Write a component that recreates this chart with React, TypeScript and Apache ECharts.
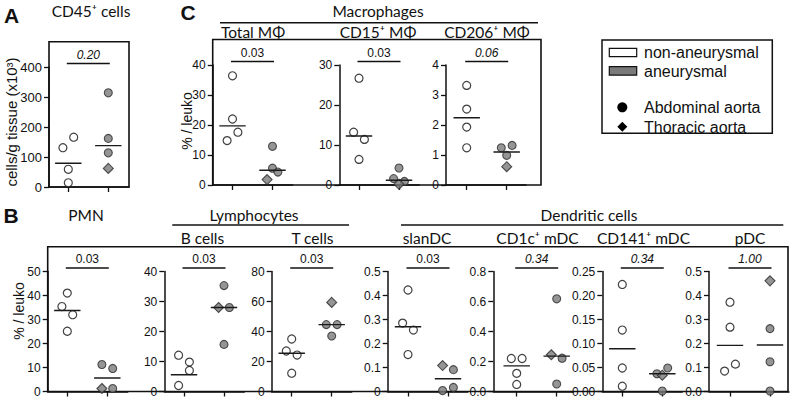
import React, { useEffect, useRef } from "react";
import * as echarts from "echarts";

// ---------------- data ----------------
// jitter side: -1 left, 0 centre, +1 right ; shape: c = circle (abdominal), d = diamond (thoracic)

// A: CD45+ cells (cells/g tissue x10^3)
const CD45_NON = [166, 131, 59, 14];
const CD45_NON_JIT = [1, -1, 0, 0];
const CD45_ANE = [314, 162, 114, 62];
const CD45_ANE_JIT = [0, 0, 0, 0];
const CD45_ANE_SHAPE = ["c", "c", "c", "d"];
const CD45_MEDIAN = [79, 138];

// C: Macrophages (% / leuko)
const TOTALMF_NON = [36.4, 22, 17.6, 14.8];
const TOTALMF_NON_JIT = [0, 0, 1, -1];
const TOTALMF_ANE = [12.9, 5.6, 4.3, 1.8];
const TOTALMF_ANE_JIT = [0, 0, 1, -1];
const TOTALMF_ANE_SHAPE = ["c", "c", "c", "d"];
const TOTALMF_MEDIAN = [19.7, 4.9];

const CD15MF_NON = [26.7, 13.2, 11.4, 6.4];
const CD15MF_NON_JIT = [0, -1, 1, 0];
const CD15MF_ANE = [4.25, 1.6, 0.9, 0.2];
const CD15MF_ANE_JIT = [0, -1, 1, 0];
const CD15MF_ANE_SHAPE = ["c", "c", "c", "d"];
const CD15MF_MEDIAN = [12.25, 1.2];

const CD206MF_NON = [3.32, 2.53, 1.93, 1.24];
const CD206MF_NON_JIT = [0, 0, 0, 0];
const CD206MF_ANE = [1.24, 1.32, 0.99, 0.61];
const CD206MF_ANE_JIT = [-1, 1, 0, 0];
const CD206MF_ANE_SHAPE = ["c", "c", "c", "d"];
const CD206MF_MEDIAN = [2.24, 1.1];

// B: leukocyte subsets (% / leuko)
const PMN_NON = [41, 35.4, 32, 25.1];
const PMN_NON_JIT = [0, -1, 1, 0];
const PMN_ANE = [11.25, 9.6, 1.25, 1.25];
const PMN_ANE_JIT = [-1, 1, -1, 1];
const PMN_ANE_SHAPE = ["c", "c", "d", "c"];
const PMN_MEDIAN = [33.75, 5.6];

const BCELL_NON = [12.1, 9.8, 7.0, 2.0];
const BCELL_NON_JIT = [-1, 1, 1, -1];
const BCELL_ANE = [35.3, 28, 28, 15.7];
const BCELL_ANE_JIT = [0, -1, 1, 0];
const BCELL_ANE_SHAPE = ["c", "d", "c", "c"];
const BCELL_MEDIAN = [5.6, 28];

const TCELL_NON = [35, 27, 24.3, 12.2];
const TCELL_NON_JIT = [0, -1, 1, 0];
const TCELL_ANE = [59.4, 44.6, 44.6, 37];
const TCELL_ANE_JIT = [0, -1, 1, 0];
const TCELL_ANE_SHAPE = ["d", "c", "c", "c"];
const TCELL_MEDIAN = [25.5, 44.6];

const SLAN_NON = [0.423, 0.285, 0.256, 0.154];
const SLAN_NON_JIT = [0, -1, 1, 0];
const SLAN_ANE = [0.108, 0.091, 0.004, 0.017];
const SLAN_ANE_JIT = [-1, 1, -1, 1];
const SLAN_ANE_SHAPE = ["d", "c", "c", "c"];
const SLAN_MEDIAN = [0.27, 0.053];

const CD1C_NON = [0.22, 0.22, 0.121, 0.047];
const CD1C_NON_JIT = [-1, 1, 0, 0];
const CD1C_ANE = [0.618, 0.245, 0.222, 0.05];
const CD1C_ANE_JIT = [0, -1, 1, 0];
const CD1C_ANE_SHAPE = ["c", "d", "c", "c"];
const CD1C_MEDIAN = [0.171, 0.236];

const CD141_NON = [0.223, 0.128, 0.049, 0.011];
const CD141_NON_JIT = [0, 0, 0, 0];
const CD141_ANE = [0.037, 0.049, 0.034, 0.001];
const CD141_ANE_JIT = [-1, 1, 0, 0];
const CD141_ANE_SHAPE = ["c", "c", "d", "c"];
const CD141_MEDIAN = [0.089, 0.037];

const PDC_NON = [0.372, 0.268, 0.114, 0.085];
const PDC_NON_JIT = [0, 0, 1, -1];
const PDC_ANE = [0.461, 0.262, 0.124, 0.002];
const PDC_ANE_JIT = [0, 0, 0, 0];
const PDC_ANE_SHAPE = ["d", "c", "c", "c"];
const PDC_MEDIAN = [0.192, 0.194];

// p values
const P_VALUES = ["0.20", "0.03", "0.03", "0.06", "0.03", "0.03", "0.03", "0.03", "0.34", "0.34", "1.00"];
const P_ITALIC = [true, false, false, true, false, false, false, false, true, true, true];

// ---------------- styling ----------------
const ARIAL = '"Liberation Sans", Arial, Helvetica, sans-serif';
const CAL = 'Lato, "Open Sans", "Noto Sans", sans-serif';
const INK = "#111";
const GREY = "#7a7a7a";
const J = 0.135; // jitter step (category units)
const HALF = 0.33; // half width of median bar (category units)
const PX_PER_CAT = 40;

type Layout = {
  left: number; tick1: number; top: number; bottom: number;
  max: number; interval: number; fmt?: (v: number) => string; labelSize: number;
};

const f1 = (v: number) => v.toFixed(1);
const f2 = (v: number) => v.toFixed(2);

const LAYOUTS: Layout[] = [
  { left: 49, tick1: 68.3, top: 67, bottom: 187, max: 400, interval: 100, labelSize: 13 },
  { left: 212.7, tick1: 232.5, top: 65, bottom: 185, max: 40, interval: 10, labelSize: 12 },
  { left: 339.3, tick1: 359, top: 65, bottom: 185, max: 30, interval: 10, labelSize: 12 },
  { left: 446, tick1: 466.7, top: 65, bottom: 185, max: 4, interval: 1, labelSize: 12 },
  { left: 47.7, tick1: 67.3, top: 271.5, bottom: 391.5, max: 50, interval: 10, labelSize: 12 },
  { left: 164.3, tick1: 184, top: 271.5, bottom: 391.5, max: 40, interval: 10, labelSize: 12 },
  { left: 271.7, tick1: 291.7, top: 271.5, bottom: 391.5, max: 80, interval: 20, labelSize: 12 },
  { left: 387.7, tick1: 408, top: 271.5, bottom: 391.5, max: 0.5, interval: 0.1, labelSize: 12 },
  { left: 493.3, tick1: 516.7, top: 271.5, bottom: 391.5, max: 0.8, interval: 0.2, fmt: f1, labelSize: 12 },
  { left: 602.3, tick1: 622.3, top: 271.5, bottom: 391.5, max: 0.25, interval: 0.05, fmt: f2, labelSize: 12 },
  { left: 709, tick1: 730, top: 271.5, bottom: 391.5, max: 0.5, interval: 0.1, fmt: f1, labelSize: 12 },
];

const DATA = [
  [CD45_NON, CD45_NON_JIT, CD45_ANE, CD45_ANE_JIT, CD45_ANE_SHAPE, CD45_MEDIAN],
  [TOTALMF_NON, TOTALMF_NON_JIT, TOTALMF_ANE, TOTALMF_ANE_JIT, TOTALMF_ANE_SHAPE, TOTALMF_MEDIAN],
  [CD15MF_NON, CD15MF_NON_JIT, CD15MF_ANE, CD15MF_ANE_JIT, CD15MF_ANE_SHAPE, CD15MF_MEDIAN],
  [CD206MF_NON, CD206MF_NON_JIT, CD206MF_ANE, CD206MF_ANE_JIT, CD206MF_ANE_SHAPE, CD206MF_MEDIAN],
  [PMN_NON, PMN_NON_JIT, PMN_ANE, PMN_ANE_JIT, PMN_ANE_SHAPE, PMN_MEDIAN],
  [BCELL_NON, BCELL_NON_JIT, BCELL_ANE, BCELL_ANE_JIT, BCELL_ANE_SHAPE, BCELL_MEDIAN],
  [TCELL_NON, TCELL_NON_JIT, TCELL_ANE, TCELL_ANE_JIT, TCELL_ANE_SHAPE, TCELL_MEDIAN],
  [SLAN_NON, SLAN_NON_JIT, SLAN_ANE, SLAN_ANE_JIT, SLAN_ANE_SHAPE, SLAN_MEDIAN],
  [CD1C_NON, CD1C_NON_JIT, CD1C_ANE, CD1C_ANE_JIT, CD1C_ANE_SHAPE, CD1C_MEDIAN],
  [CD141_NON, CD141_NON_JIT, CD141_ANE, CD141_ANE_JIT, CD141_ANE_SHAPE, CD141_MEDIAN],
  [PDC_NON, PDC_NON_JIT, PDC_ANE, PDC_ANE_JIT, PDC_ANE_SHAPE, PDC_MEDIAN],
] as any[];

function buildOption() {
  const grid: any[] = [];
  const xAxis: any[] = [];
  const yAxis: any[] = [];
  const series: any[] = [];
  const g: any[] = [];

  LAYOUTS.forEach((L, i) => {
    const [non, nonJ, ane, aneJ, aneS, med] = DATA[i];
    const xmin = 1 - (L.tick1 - L.left) / PX_PER_CAT;
    grid.push({ left: L.left, top: L.top, width: 2 * PX_PER_CAT, height: L.bottom - L.top, containLabel: false, outerBoundsMode: "none" });
    xAxis.push({
      type: "value", gridIndex: i, min: xmin, max: xmin + 2,
      axisLine: { show: true, lineStyle: { color: INK, width: 1.5 } },
      axisTick: { show: true, customValues: [1, 2], length: 5, lineStyle: { color: INK, width: 1.3 } },
      axisLabel: { show: false }, splitLine: { show: false },
    });
    yAxis.push({
      type: "value", gridIndex: i, min: 0, max: L.max, interval: L.interval,
      axisLine: { show: true, lineStyle: { color: INK, width: 1.5 } },
      axisTick: { show: true, length: 5, lineStyle: { color: INK, width: 1.3 } },
      axisLabel: {
        fontFamily: ARIAL, fontSize: L.labelSize, color: INK, margin: 7,
        ...(L.fmt ? { formatter: L.fmt } : {}),
      },
      splitLine: { show: false },
    });
    series.push({
      type: "scatter", xAxisIndex: i, yAxisIndex: i, z: 3,
      symbol: "circle", symbolSize: 8,
      itemStyle: { color: "#fff", borderColor: INK, borderWidth: 1.2 },
      data: non.map((v: number, k: number) => [1 + nonJ[k] * J, v]),
    });
    series.push({
      type: "scatter", xAxisIndex: i, yAxisIndex: i, z: 3,
      itemStyle: { color: GREY, borderColor: "#2a2a2a", borderWidth: 1.1 },
      data: ane.map((v: number, k: number) => ({
        value: [2 + aneJ[k] * J, v],
        symbol: aneS[k] === "d" ? "diamond" : "circle",
        symbolSize: aneS[k] === "d" ? 10 : 8,
      })),
    });
    [0, 1].forEach((c) => {
      series.push({
        type: "line", xAxisIndex: i, yAxisIndex: i, z: 4, symbol: "none", silent: true,
        lineStyle: { color: "#1a1a1a", width: 1.4 },
        data: [[1 + c - HALF, med[c]], [1 + c + HALF, med[c]]],
      });
    });
    // significance bar and p value
    const t2 = L.tick1 + PX_PER_CAT;
    const yb = L.top - 3.4;
    g.push({ type: "line", shape: { x1: L.tick1 - 1.5, y1: yb, x2: t2 + 1.5, y2: yb }, style: { stroke: INK, lineWidth: 1.5 } });
    g.push(txt(P_VALUES[i], (L.tick1 + t2) / 2, yb - 9, `${P_ITALIC[i] ? "italic " : ""}12px ${ARIAL}`));
  });

  // frames
  const frame = (x1: number, y1: number, x2: number, y2: number) => ({
    type: "rect", shape: { x: x1, y: y1, width: x2 - x1, height: y2 - y1 },
    style: { fill: "none", stroke: INK, lineWidth: 1.6 }, z: 0,
  });
  g.push(frame(49, 41.7, 129, 187));
  g.push(frame(212.7, 39.5, 541, 185));
  g.push(frame(47.7, 246.7, 788, 391.5));

  // panel letters
  g.push(txt("A", 11.5, 15, `bold 21px ${ARIAL}`));
  g.push(txt("C", 188, 12.5, `bold 21px ${ARIAL}`));
  g.push(txt("B", 11, 215.5, `bold 21px ${ARIAL}`));

  // titles
  const T = `15.5px ${CAL}`;
  g.push(txt("CD45⁺ cells", 91, 10.5, T));
  g.push(txt("Macrophages", 378, 11, T));
  g.push(hline(220, 538, 22.7));
  g.push(txt("Total MΦ", 253, 31.5, T));
  g.push(txt("CD15⁺ MΦ", 378, 31.5, T));
  g.push(txt("CD206⁺ MΦ", 487, 31.5, T));
  g.push(txt("PMN", 86, 215, T));
  g.push(txt("Lymphocytes", 254, 215, T));
  g.push(hline(172.3, 349, 225));
  g.push(txt("Dendritic cells", 589, 215, T));
  g.push(hline(401, 783.3, 225));
  g.push(txt("B cells", 202.5, 238, T));
  g.push(txt("T cells", 312.5, 238, T));
  g.push(txt("slanDC", 427, 238, T));
  g.push(txt("CD1c⁺ mDC", 537.5, 238, T));
  g.push(txt("CD141⁺ mDC", 643.5, 238, T));
  g.push(txt("pDC", 750, 238, T));

  // y axis titles
  g.push(txt("cells/g tissue (x10³)", 11.5, 122, `15px ${ARIAL}`, Math.PI / 2));
  g.push(txt("% / leuko", 187, 121, `14px ${ARIAL}`, Math.PI / 2));
  g.push(txt("% / leuko", 19, 311, `14px ${ARIAL}`, Math.PI / 2));

  // legend
  g.push({ type: "rect", shape: { x: 602, y: 40, width: 170.3, height: 93.3 }, style: { fill: "#fff", stroke: INK, lineWidth: 1.5 } });
  g.push({ type: "rect", shape: { x: 609.3, y: 48.3, width: 27.4, height: 8.4 }, style: { fill: "#fff", stroke: INK, lineWidth: 1.2 } });
  g.push({ type: "rect", shape: { x: 609.3, y: 66.7, width: 27.4, height: 8.4 }, style: { fill: GREY, stroke: INK, lineWidth: 1.2 } });
  g.push({ type: "circle", shape: { cx: 622.3, cy: 107.3, r: 5 }, style: { fill: "#000" } });
  g.push({ type: "polygon", shape: { points: [[622.3, 121.7], [627.3, 126.7], [622.3, 131.7], [617.3, 126.7]] }, style: { fill: "#000" } });
  const LG = `16px ${ARIAL}`;
  g.push(txt("non-aneurysmal", 644, 52, LG, 0, "left"));
  g.push(txt("aneurysmal", 644, 71.5, LG, 0, "left"));
  g.push(txt("Abdominal aorta", 644, 107.5, LG, 0, "left"));
  g.push(txt("Thoracic aorta", 644, 127, LG, 0, "left"));

  return {
    animation: false,
    backgroundColor: "#fff",
    grid, xAxis, yAxis, series,
    graphic: { elements: g },
  };
}

function txt(text: string, x: number, y: number, font: string, rotation = 0, align = "center") {
  return {
    type: "text", x, y, rotation, z: 10,
    style: {
      text, font, fill: INK,
      align, textAlign: align, verticalAlign: "middle", textVerticalAlign: "middle",
    },
  };
}
function hline(x1: number, x2: number, y: number) {
  return { type: "line", shape: { x1, y1: y, x2, y2: y }, style: { stroke: INK, lineWidth: 1.5 } };
}

export default function App() {
  const ref = useRef<HTMLDivElement>(null);
  useEffect(() => {
    if (!ref.current) return;
    const chart = echarts.init(ref.current, undefined, { renderer: "svg" });
    chart.setOption(buildOption() as any);
    return () => chart.dispose();
  }, []);
  return <div ref={ref} style={{ position: "absolute", left: 0, top: 0, width: 795, height: 401, background: "#fff" }} />;
}
